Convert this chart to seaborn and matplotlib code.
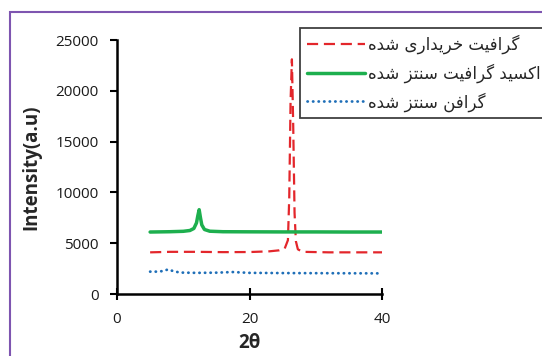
import pandas as pd
import matplotlib
matplotlib.use("Agg")
import matplotlib.pyplot as plt
import seaborn as sns
from matplotlib.patches import Rectangle

# --- data ---
# purchased graphite (red dashed)
x_graphite = [5, 8, 12, 16, 20, 23, 24.5, 25.3, 25.8, 26.0, 26.2, 26.4, 26.6, 26.8, 27.0, 27.3, 28, 32, 36, 40]
y_graphite = [4100, 4150, 4150, 4120, 4130, 4200, 4300, 4450, 5300, 9500, 19000, 23100, 16500, 8000, 5200, 4400, 4150, 4100, 4100, 4100]

# synthesized graphite oxide (green solid)
x_go = [5, 8, 10, 11, 11.6, 12.0, 12.2, 12.4, 12.6, 12.8, 13.2, 14, 16, 20, 25, 30, 35, 40]
y_go = [6100, 6130, 6170, 6250, 6450, 7000, 7700, 8300, 7500, 6800, 6350, 6180, 6130, 6120, 6110, 6110, 6100, 6100]

# synthesized graphene (blue dotted)
x_graphene = [5, 6, 7, 7.7, 8.5, 9.5, 12, 15, 17.5, 20, 25, 30, 35, 40]
y_graphene = [2200, 2200, 2260, 2420, 2250, 2110, 2080, 2100, 2160, 2080, 2060, 2050, 2040, 2030]

labels = ["گرافیت خریداری شده", "اکسید گرافیت سنتز شده", "گرافن سنتز شده"]
x_ticks = [0, 20, 40]
y_ticks = [0, 5000, 10000, 15000, 20000, 25000]

# --- minimal Persian shaping (matplotlib draws no joined forms itself) ---
FORMS = {
    'ا': ('\uFE8D', '\uFE8E', None, None),
    'د': ('\uFEA9', '\uFEAA', None, None),
    'ر': ('\uFEAD', '\uFEAE', None, None),
    'ز': ('\uFEAF', '\uFEB0', None, None),
    'ت': ('\uFE95', '\uFE96', '\uFE97', '\uFE98'),
    'خ': ('\uFEA5', '\uFEA6', '\uFEA7', '\uFEA8'),
    'س': ('\uFEB1', '\uFEB2', '\uFEB3', '\uFEB4'),
    'ش': ('\uFEB5', '\uFEB6', '\uFEB7', '\uFEB8'),
    'ف': ('\uFED1', '\uFED2', '\uFED3', '\uFED4'),
    'ن': ('\uFEE5', '\uFEE6', '\uFEE7', '\uFEE8'),
    'ه': ('\uFEE9', '\uFEEA', '\uFEEB', '\uFEEC'),
    'ی': ('\uFBFC', '\uFBFD', '\uFBFE', '\uFBFF'),
    'ک': ('\uFB8E', '\uFB8F', '\uFB90', '\uFB91'),
    'گ': ('\uFB92', '\uFB93', '\uFB94', '\uFB95'),
}


def dual(c):
    return c in FORMS and FORMS[c][2] is not None


def shape(text):
    out = []
    for i, c in enumerate(text):
        if c not in FORMS:
            out.append(c)
            continue
        prev_joins = i > 0 and dual(text[i - 1])
        next_joins = dual(c) and i + 1 < len(text) and text[i + 1] in FORMS
        iso, fin, ini, med = FORMS[c]
        if prev_joins and next_joins:
            out.append(med)
        elif prev_joins:
            out.append(fin)
        elif next_joins:
            out.append(ini)
        else:
            out.append(iso)
    return ''.join(reversed(out))


sns.set_style("ticks")
plt.rcParams['font.family'] = ['Open Sans', 'DejaVu Sans']

fig = plt.figure(figsize=(5.42, 3.56), dpi=100)
ax = fig.add_axes([117 / 542, 62 / 356, 265 / 542, 254 / 356])

df_g = pd.DataFrame({'x': x_graphite, 'y': y_graphite})
df_go = pd.DataFrame({'x': x_go, 'y': y_go})
df_gr = pd.DataFrame({'x': x_graphene, 'y': y_graphene})

sns.lineplot(data=df_g, x='x', y='y', ax=ax, color='#E3262B', lw=1.6,
             linestyle=(0, (5, 2.6)), label=shape(labels[0]))
sns.lineplot(data=df_go, x='x', y='y', ax=ax, color='#1DAF4E', lw=2.5,
             label=shape(labels[1]))
sns.lineplot(data=df_gr, x='x', y='y', ax=ax, color='#1F6FB8', lw=2.0,
             linestyle=(0, (0.1, 1.9)), dash_capstyle='round',
             label=shape(labels[2]))

ax.set_xlim(0, 40)
ax.set_ylim(0, 25000)
ax.set_xticks(x_ticks)
ax.set_yticks(y_ticks)
ax.tick_params(axis='both', labelsize=11, colors='black', width=1.5)
ax.tick_params(axis='both', labelcolor='#1a1a1a')
ax.tick_params(axis='x', direction='inout', length=8, pad=9)
ax.tick_params(axis='y', direction='out', length=5, pad=8)
for s in ['left', 'bottom']:
    ax.spines[s].set_linewidth(1.8)
    ax.spines[s].set_color('black')
for s in ['top', 'right']:
    ax.spines[s].set_visible(False)

ax.set_xlabel('2θ', fontsize=13.5, fontweight='bold', labelpad=4)
ax.set_ylabel('Intensity(a.u)', fontsize=13.5, fontweight='bold', labelpad=10)

leg = ax.legend(loc='upper left', bbox_to_anchor=(300 / 542, 1 - 28 / 356),
                bbox_transform=fig.transFigure, borderaxespad=0,
                prop={'family': ['DejaVu Sans'], 'size': 12},
                handlelength=3.5, handletextpad=0.2, labelspacing=0.55,
                fancybox=False, framealpha=1, borderpad=0.4)
leg.get_frame().set_edgecolor('#404040')
leg.get_frame().set_linewidth(1.3)

# purple frame of the original screenshot
fig.add_artist(Rectangle((10 / 542, -0.1), 1.2, (356 - 12) / 356 + 0.1,
                         transform=fig.transFigure, fill=False,
                         edgecolor='#7E55B0', lw=1.5))

fig.savefig('out.png', dpi=100)
